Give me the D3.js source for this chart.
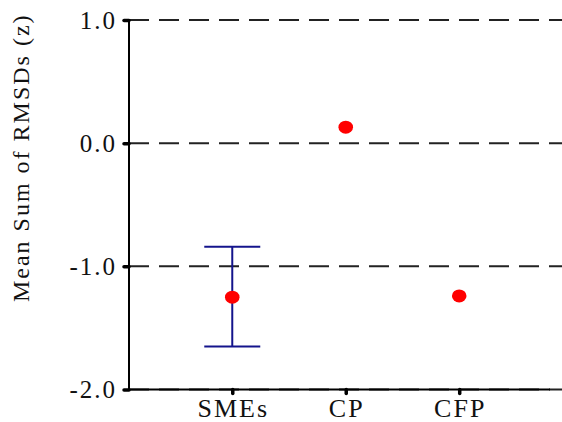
<!DOCTYPE html>
<html><head><meta charset="utf-8"><script src="https://cdn.jsdelivr.net/npm/d3@7"></script></head>
<body style="margin:0">
<svg id="s" width="562" height="422"></svg>
<script>
const categories = ["SMEs", "CP", "CFP"];
const means = [-1.25, 0.13, -1.24];
const errUpper = [-0.84, null, null];
const errLower = [-1.65, null, null];
const yTicks = [1.0, 0.0, -1.0, -2.0];
const yLabel = "Mean Sum of RMSDs (z)";

const fontName = ["Liberation", "Serif"].join(" ");
const svg = d3.select("#s");
const x = d3.scaleLinear().domain([0.09, 3.8]).range([129, 550]);
const y = d3.scaleLinear().domain([-2, 1]).range([389.5, 20]);

// gridlines
svg.append("g").selectAll("line").data(yTicks).join("line")
  .attr("x1", x(0.09)).attr("x2", 562)
  .attr("y1", d => y(d)).attr("y2", d => y(d))
  .attr("stroke", "#222").attr("stroke-width", 2)
  .attr("stroke-dasharray", "20,10");

// y axis line + ticks
const yAxis = d3.axisLeft(y).tickValues(yTicks).tickFormat("").tickSize(5);
const gy = svg.append("g").attr("transform", `translate(${x(0.09)},0)`).call(yAxis);
gy.select(".domain").attr("d", `M0,${y(1)}V${y(-2)}`).attr("stroke", "#000").attr("stroke-width", 2);
gy.selectAll(".tick line").attr("stroke", "#000").attr("stroke-width", 3.5).attr("stroke-linecap", "round");
gy.selectAll(".tick text").remove();

// x axis line + ticks
const xAxis = d3.axisBottom(x).tickValues([1, 2, 3]).tickFormat("").tickSize(4);
const gx = svg.append("g").attr("transform", `translate(0,${y(-2)})`).call(xAxis);
gx.select(".domain").attr("d", `M${x(0.09)},0H${x(3.8)}`).attr("stroke", "#000").attr("stroke-width", 2);
gx.selectAll(".tick line").attr("stroke", "#000").attr("stroke-width", 3.5).attr("stroke-linecap", "round");
gx.selectAll(".tick text").remove();

// error bars
const eb = categories.map((c, i) => ({i, hi: errUpper[i], lo: errLower[i]})).filter(d => d.hi !== null);
const ebg = svg.append("g").attr("stroke", "#14148c").attr("stroke-width", 2);
eb.forEach(d => {
  const cx = x(d.i + 1);
  ebg.append("line").attr("x1", cx).attr("x2", cx).attr("y1", y(d.hi)).attr("y2", y(d.lo));
  ebg.append("line").attr("x1", cx - 28).attr("x2", cx + 28).attr("y1", y(d.hi)).attr("y2", y(d.hi));
  ebg.append("line").attr("x1", cx - 28).attr("x2", cx + 28).attr("y1", y(d.lo)).attr("y2", y(d.lo));
});

// points
svg.append("g").selectAll("ellipse").data(means).join("ellipse")
  .attr("cx", (d, i) => x(i + 1)).attr("cy", d => y(d))
  .attr("rx", 7.3).attr("ry", 6.5).attr("fill", "#ff0000");

// texts, appended directly to the svg root
const fmt = d => d3.format(".1f")(d).replace("\u2212", "-");
const labels = [];
yTicks.forEach(v => labels.push({t: fmt(v), x: 117, y: y(v) + 8.5, a: "end", s: 25, r: false}));
categories.forEach((c, i) => labels.push({t: c, x: x(i + 1) + 1, y: 417, a: "middle", s: 26, r: false}));
labels.push({t: yLabel, x: 29, y: (y(1) + y(-2)) / 2 - 47, a: "middle", s: 24, r: true});

svg.selectAll("text.lbl").data(labels).join("text")
  .attr("class", "lbl")
  .attr("x", d => d.r ? 0 : d.x)
  .attr("y", d => d.r ? 0 : d.y)
  .attr("transform", d => d.r ? `translate(${d.x},${d.y}) rotate(-90)` : null)
  .attr("text-anchor", d => d.a)
  .attr("font-size", d => d.s)
  .attr("letter-spacing", 2)
  .attr("fill", "#111")
  .style("font-family", d => `"${fontName}"`)
  .text(d => d.t);
</script>
</body></html>
